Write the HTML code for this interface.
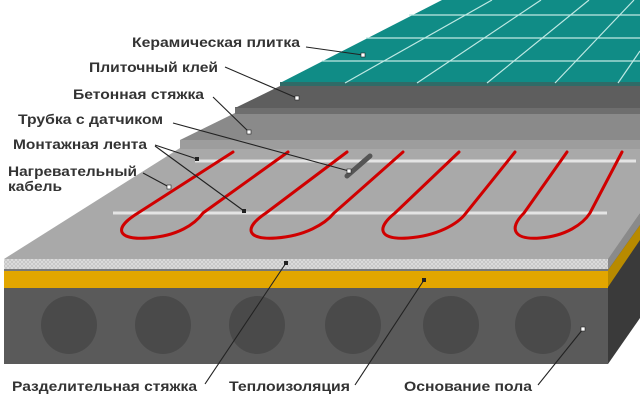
<!DOCTYPE html>
<html><head><meta charset="utf-8"><style>
html,body{margin:0;padding:0;background:#fff;width:640px;height:400px;overflow:hidden}
svg{display:block}
text{font-family:"Liberation Sans",sans-serif;font-weight:bold;font-size:14px;fill:#333}
</style></head><body>
<svg width="640" height="400" viewBox="0 0 640 400">
<defs>
<pattern id="gr" width="4" height="4" patternUnits="userSpaceOnUse">
<rect width="4" height="4" fill="#c4c4c4"/><path d="M0 0L4 4M4 0L0 4" stroke="#dedede" stroke-width="0.8"/>
</pattern>
</defs>
<!-- right side face -->
<polygon points="608,258 640,213 640,318 608,364" fill="#3a3a3a"/>
<polygon points="608,270 640,225 640,240 608,287" fill="#b88a00"/>
<polygon points="608,258 640,213 640,225 608,270" fill="#8a8a8a"/>
<!-- main slab top -->
<polygon points="4,259 180,148 640,148 640,213 608,259" fill="#a9a9a9"/>
<!-- screed front face -->
<polygon points="180,140 640,140 640,149 180,149" fill="#9d9d9d"/>
<!-- screed top -->
<polygon points="180,140 235,113 640,113 640,140" fill="#8a8a8a"/>
<!-- adhesive front -->
<rect x="235" y="107" width="405" height="7" fill="#6e6e6e"/>
<!-- adhesive top -->
<polygon points="235,108 280,86 640,86 640,108" fill="#5e5e5e"/>
<!-- tile -->
<polygon points="280,83 442,0 640,0 640,83" fill="#108c86"/>
<rect x="280" y="82" width="360" height="4" fill="#2f6b67"/>
<g stroke="#bfe9e4" stroke-width="1.2">
<line x1="409" y1="15" x2="640" y2="15"/>
<line x1="366" y1="38" x2="640" y2="38"/>
<line x1="322" y1="61" x2="640" y2="61"/>
<line x1="345" y1="83" x2="492" y2="0"/>
<line x1="417" y1="83" x2="541" y2="0"/>
<line x1="487" y1="83" x2="589" y2="0"/>
<line x1="555" y1="83" x2="634" y2="0"/>
<line x1="618" y1="83" x2="640" y2="51"/>
</g>
<!-- front faces -->
<rect x="4" y="259" width="604" height="10" fill="url(#gr)"/>
<rect x="4" y="269" width="604" height="2" fill="#777"/>
<rect x="4" y="271" width="604" height="17" fill="#e2a600"/>
<rect x="4" y="288" width="604" height="76" fill="#5a5a5a"/>
<g fill="#4a4a4a">
<ellipse cx="69" cy="325" rx="28" ry="29"/><ellipse cx="163" cy="325" rx="28" ry="29"/>
<ellipse cx="257" cy="325" rx="28" ry="29"/><ellipse cx="353" cy="325" rx="28" ry="29"/>
<ellipse cx="451" cy="325" rx="28" ry="29"/><ellipse cx="543" cy="325" rx="28" ry="29"/>
</g>
<!-- tapes -->
<line x1="195" y1="161" x2="636" y2="161" stroke="#e4e4e4" stroke-width="3"/>
<line x1="113" y1="213" x2="607" y2="213" stroke="#e4e4e4" stroke-width="3"/>
<!-- cable -->
<g fill="none" stroke="#d00000" stroke-width="3" stroke-linecap="round">
<path d="M233 152 L138 213 C112 229 118 240 148 238 C178 236 195 224 203 213 L288 152"/>
<path d="M347 152 L266 213 C242 229 248 240 276 238 C305 236 325 224 334 213 L403 152"/>
<path d="M459 152 L395 213 C375 229 380 240 408 238 C437 236 458 224 466 213 L515 152"/>
<path d="M567 152 L524 213 C508 229 514 240 540 238 C566 236 583 224 590 213 L622 152"/>
</g>
<!-- sensor tube -->
<line x1="347" y1="176" x2="370" y2="156" stroke="#555" stroke-width="5" stroke-linecap="round"/>
<!-- leaders -->
<g stroke="#222" stroke-width="1.1" fill="none">
<line x1="306" y1="47" x2="363" y2="55"/>
<line x1="225" y1="67" x2="297" y2="98"/>
<line x1="213" y1="97" x2="249" y2="132"/>
<line x1="173" y1="123" x2="349" y2="171"/>
<line x1="155" y1="145" x2="197" y2="159"/>
<line x1="155" y1="146" x2="244" y2="211"/>
<line x1="143" y1="173" x2="169" y2="187"/>
<line x1="205" y1="384" x2="286" y2="263"/>
<line x1="355" y1="385" x2="424" y2="280"/>
<line x1="538" y1="385" x2="583" y2="329"/>
</g>
<g fill="#fff" stroke="#222" stroke-width="0.6">
<rect x="361" y="53" width="4" height="4"/>
<rect x="295" y="96" width="4" height="4"/>
<rect x="247" y="130" width="4" height="4"/>
<rect x="347" y="169" width="4" height="4"/>
<rect x="167" y="185" width="4" height="4"/>
<rect x="581" y="327" width="4" height="4"/>
</g>
<g fill="#222">
<rect x="195" y="157" width="4" height="4"/>
<rect x="242" y="209" width="4" height="4"/>
<rect x="284" y="261" width="4" height="4"/>
<rect x="422" y="278" width="4" height="4"/>
</g>
<!-- labels -->
<text x="132" y="47" textLength="168" lengthAdjust="spacingAndGlyphs">Керамическая плитка</text>
<text x="89" y="72" textLength="129" lengthAdjust="spacingAndGlyphs">Плиточный клей</text>
<text x="73" y="99" textLength="131" lengthAdjust="spacingAndGlyphs">Бетонная стяжка</text>
<text x="18" y="124" textLength="145" lengthAdjust="spacingAndGlyphs">Трубка с датчиком</text>
<text x="13" y="149" textLength="134" lengthAdjust="spacingAndGlyphs">Монтажная лента</text>
<text x="8" y="176" textLength="129" lengthAdjust="spacingAndGlyphs">Нагревательный</text>
<text x="8" y="191" textLength="54" lengthAdjust="spacingAndGlyphs">кабель</text>
<text x="12" y="391" textLength="185" lengthAdjust="spacingAndGlyphs">Разделительная стяжка</text>
<text x="229" y="391" textLength="121" lengthAdjust="spacingAndGlyphs">Теплоизоляция</text>
<text x="404" y="391" textLength="128" lengthAdjust="spacingAndGlyphs">Основание пола</text>
</svg>
</body></html>
